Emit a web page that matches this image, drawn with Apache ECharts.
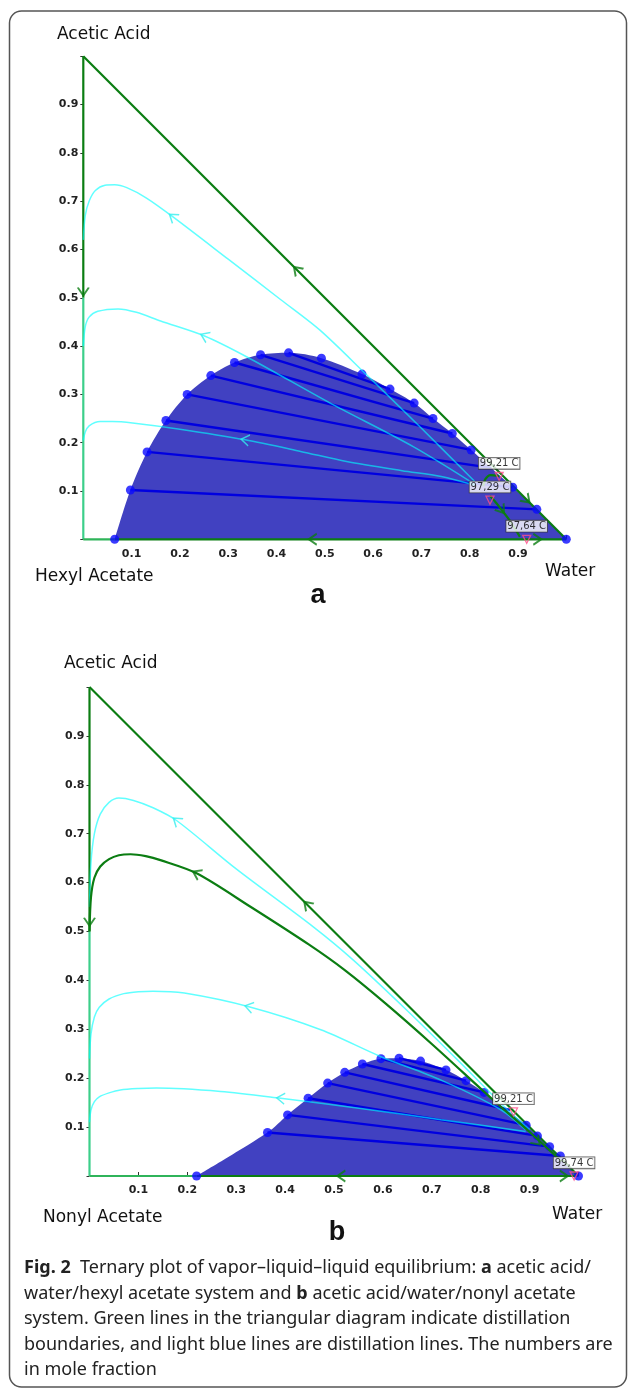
<!DOCTYPE html>
<html lang="en">
<head>
<meta charset="UTF-8">
<title>Fig. 2 ternary plots</title>
<script src="https://cdn.jsdelivr.net/npm/echarts@6/dist/echarts.min.js"></script>
<style>
  body { margin: 0; background: #fff; }
  #main { width: 629px; height: 1389px; }
</style>
</head>
<body>
<div id="main"></div>
<script>
// x = water mole fraction, y = acetic acid mole fraction
var tickLabels = ['0.1', '0.2', '0.3', '0.4', '0.5', '0.6', '0.7', '0.8', '0.9'];

// ---- panel a : acetic acid / water / hexyl acetate ----
var aBinodal = [[0.065, 0], [0.0975, 0.102], [0.132, 0.181], [0.171, 0.246], [0.215, 0.300], [0.264, 0.339],
  [0.313, 0.366], [0.367, 0.382], [0.425, 0.386], [0.493, 0.375], [0.577, 0.342], [0.635, 0.311],
  [0.685, 0.282], [0.724, 0.250], [0.764, 0.219], [0.803, 0.185], [0.889, 0.108], [0.939, 0.062], [1.0, 0]];
var aTies = [
  [[0.0975, 0.102], [0.939, 0.062]], [[0.132, 0.181], [0.889, 0.108]], [[0.171, 0.246], [0.845, 0.148]],
  [[0.215, 0.300], [0.803, 0.185]], [[0.264, 0.339], [0.764, 0.219]], [[0.313, 0.366], [0.724, 0.250]],
  [[0.367, 0.382], [0.685, 0.282]], [[0.425, 0.386], [0.635, 0.311]]];
var aCyan1 = [[0, 0.62], [0.004, 0.67], [0.012, 0.70], [0.025, 0.722], [0.045, 0.733], [0.065, 0.734], [0.09, 0.728],
  [0.13, 0.707], [0.185, 0.668], [0.3, 0.58], [0.409, 0.496], [0.49, 0.433], [0.587, 0.34], [0.697, 0.233], [0.81, 0.12]];
var aCyan2 = [[0, 0.40], [0.004, 0.44], [0.012, 0.46], [0.03, 0.472], [0.072, 0.477], [0.11, 0.47], [0.16, 0.452],
  [0.251, 0.421], [0.338, 0.378], [0.511, 0.282], [0.683, 0.192], [0.812, 0.113]];
var aCyan3 = [[0, 0.205], [0.004, 0.222], [0.012, 0.235], [0.035, 0.244], [0.06, 0.244], [0.102, 0.241], [0.2, 0.228],
  [0.335, 0.206], [0.45, 0.182], [0.545, 0.161], [0.66, 0.142], [0.741, 0.130], [0.81, 0.112]];
var aBound1 = [[0.842, 0.09], [0.855, 0.075], [0.866, 0.061], [0.882, 0.040], [0.904, 0.005]];
var aBound2 = [[0.828, 0.110], [0.832, 0.124], [0.843, 0.133], [0.861, 0.131]];
var aGreenArrows = [[0.442, 0.558, -1, 1], [0, 0.513, 0, -1], [0.475, 0, -1, 0], [0.866, 0.061, 0.6, -0.8], [0.918, 0.082, 1, -1], [0.94, 0, 1, 0]];
var aCyanArrows = [[0.185, 0.668, -1, 0.77], [0.251, 0.421, -1, 0.45], [0.335, 0.206, -1, 0.17]];
var aTemps = [[0.861, 0.130], [0.842, 0.081], [0.918, 0]];
var aTempNames = ['99,21 C', '97,29 C', '97,64 C'];

// ---- panel b : acetic acid / water / nonyl acetate ----
var bBinodal = [[0.219, 0], [0.364, 0.089], [0.405, 0.125], [0.447, 0.159], [0.487, 0.190], [0.522, 0.212],
  [0.558, 0.229], [0.596, 0.240], [0.633, 0.241], [0.677, 0.235], [0.729, 0.217], [0.770, 0.195], [0.807, 0.171],
  [0.893, 0.104], [0.916, 0.082], [0.941, 0.060], [0.963, 0.041], [1.0, 0]];
var bTies = [
  [[0.364, 0.089], [0.963, 0.041]], [[0.405, 0.125], [0.941, 0.060]], [[0.447, 0.159], [0.916, 0.082]],
  [[0.487, 0.190], [0.893, 0.104]], [[0.522, 0.212], [0.86, 0.135]], [[0.558, 0.229], [0.807, 0.171]],
  [[0.596, 0.240], [0.770, 0.195]], [[0.633, 0.241], [0.729, 0.217]]];
var bCyan1 = [[0, 0.55], [0.003, 0.64], [0.01, 0.70], [0.022, 0.74], [0.04, 0.764], [0.06, 0.773], [0.09, 0.768],
  [0.13, 0.753], [0.178, 0.727], [0.3, 0.628], [0.457, 0.51], [0.539, 0.442], [0.65, 0.338], [0.75, 0.24], [0.85, 0.14], [0.9, 0.095]];
var bCyan2 = [[0, 0.24], [0.003, 0.29], [0.01, 0.325], [0.02, 0.345], [0.04, 0.362], [0.07, 0.373], [0.1, 0.377],
  [0.13, 0.378], [0.194, 0.374], [0.326, 0.346], [0.473, 0.299], [0.596, 0.244], [0.719, 0.196], [0.842, 0.135], [0.892, 0.094]];
var bCyan3 = [[0, 0.11], [0.003, 0.135], [0.01, 0.152], [0.02, 0.162], [0.04, 0.17], [0.063, 0.176], [0.1, 0.179],
  [0.137, 0.18], [0.268, 0.173], [0.391, 0.159], [0.555, 0.138], [0.719, 0.115], [0.892, 0.091]];
var bBound1 = [[0, 0.50], [0.003, 0.57], [0.01, 0.61], [0.022, 0.633], [0.04, 0.648], [0.06, 0.656], [0.084, 0.658],
  [0.115, 0.654], [0.145, 0.646], [0.219, 0.619], [0.33, 0.55], [0.449, 0.473], [0.522, 0.421],
  [0.604, 0.354], [0.7, 0.27], [0.826, 0.155], [0.9, 0.09], [0.965, 0.03]];
var bGreenArrows = [[0.445, 0.555, -1, 1], [0, 0.52, 0, -1], [0.515, 0, -1, 0], [0.219, 0.619, -1, 0.5], [0.915, 0.07, 1, -1], [0.97, 0, 1, 0]];
var bCyanArrows = [[0.178, 0.727, -1, 0.8], [0.326, 0.346, -1, 0.25], [0.391, 0.159, -1, 0.1]];
var bTemps = [[0.867, 0.131], [0.991, 0]];
var bTempNames = ['99,21 C', '99,74 C'];

var GREEN = '#0b7d12', MINT = '#3ccf8a', FILL = '#4141c1', TIE = '#0000e0', DOT = '#0a0aff', CYAN = '#00ffff';
var FONT = 'DejaVu Sans';

function seg(g, pts, color, width, z, extra) {
  var s = {
    type: 'line', xAxisIndex: g, yAxisIndex: g, data: pts, symbol: 'none', clip: false, silent: true, z: z,
    lineStyle: { color: color, width: width }
  };
  for (var k in extra) s[k] = extra[k];
  return s;
}

function arrows(g, list, color, width, z) {
  return {
    type: 'scatter', xAxisIndex: g, yAxisIndex: g, z: z, silent: true, clip: false,
    symbol: 'path://M0,10 L5,0 L10,10', symbolSize: [11, 8],
    itemStyle: { color: 'transparent', borderColor: color, borderWidth: width },
    data: list.map(function (a) {
      return { value: [a[0], a[1]], symbolRotate: Math.atan2(a[3], a[2]) * 180 / Math.PI - 90 };
    })
  };
}

function panel(g, binodal, ties, cyans, bounds, gArr, cArr, temps, names) {
  var out = [];
  var x0 = binodal[0][0];
  out.push(seg(g, binodal, FILL, 0, 1, { smooth: 0.3, areaStyle: { color: FILL, opacity: 1 } }));
  ties.forEach(function (t) { out.push(seg(g, t, TIE, 2.4, 2)); });
  out.push(seg(g, [[0, 1], [1, 0]], GREEN, 2.2, 3));
  out.push(seg(g, [[0, 1], [0, 0.5]], GREEN, 2.2, 3));
  out.push(seg(g, [[0, 0.5], [0, 0]], MINT, 2.2, 3));
  out.push(seg(g, [[0, 0], [x0, 0]], '#2fb45a', 2.2, 3));
  out.push(seg(g, [[x0, 0], [1, 0]], GREEN, 2.2, 3));
  out.push({
    type: 'scatter', xAxisIndex: g, yAxisIndex: g, z: 4, silent: true, clip: false,
    symbol: 'circle', symbolSize: 9, itemStyle: { color: DOT }, data: binodal
  });
  cyans.forEach(function (c) {
    out.push(seg(g, c, CYAN, 1.5, 5, { smooth: 0.3 }));
    out[out.length - 1].lineStyle.opacity = 0.62;
  });
  bounds.forEach(function (b) { out.push(seg(g, b, GREEN, 2.2, 6, { smooth: 0.3 })); });
  out.push(arrows(g, cArr, '#33eeee', 1.4, 7));
  out.push(arrows(g, gArr, GREEN, 1.8, 7));
  out.push({
    type: 'scatter', xAxisIndex: g, yAxisIndex: g, z: 8, silent: true, clip: false,
    symbol: 'triangle', symbolRotate: 180, symbolSize: 8,
    itemStyle: { color: 'transparent', borderColor: '#ff4d88', borderWidth: 1.3 },
    label: {
      show: true, position: 'top', distance: 3, formatter: '{b}', fontFamily: FONT, fontSize: 10,
      color: '#000', backgroundColor: '#fff', borderColor: '#333', borderWidth: 0.8, padding: [1, 1, 0, 1]
    },
    data: temps.map(function (p, i) { return { name: names[i], value: p }; })
  });
  return out;
}

function tickFmt(v) {
  var k = Math.round(v * 10);
  return (k >= 1 && k <= 9) ? tickLabels[k - 1] : '';
}

function axis(g, isX) {
  return {
    gridIndex: g, type: 'value', min: 0, max: 1, interval: 0.1,
    axisLine: { show: false }, splitLine: { show: false },
    axisTick: { show: true, inside: isX, length: isX ? 4 : 3, lineStyle: { color: '#333' } },
    axisLabel: { margin: isX ? 9 : 5, formatter: tickFmt, fontFamily: FONT, fontSize: 11, fontWeight: 'bold', color: '#222' }
  };
}

function txt(x, y, text, size, extra) {
  var st = { text: text, x: x, y: y, fill: '#111', fontFamily: FONT, fontSize: size, verticalAlign: 'middle' };
  for (var k in extra) st[k] = extra[k];
  return { type: 'text', silent: true, style: st };
}

var caption = [
  '{b|Fig. 2}  Ternary plot of vapor–liquid–liquid equilibrium: {b|a} acetic acid/',
  'water/hexyl acetate system and {b|b} acetic acid/water/nonyl acetate',
  'system. Green lines in the triangular diagram indicate distillation',
  'boundaries, and light blue lines are distillation lines. The numbers are',
  'in mole fraction'
];

var graphics = [
  { type: 'rect', silent: true, shape: { x: 9.5, y: 11, width: 617, height: 1376, r: 12 }, style: { fill: 'none', stroke: '#555', lineWidth: 1.5 } },
  txt(57, 35, 'Acetic Acid', 17),
  txt(35, 577, 'Hexyl Acetate', 17),
  txt(545, 572, 'Water', 17),
  txt(318, 596, 'a', 27, { fontFamily: 'Liberation Sans', fontWeight: 'bold', align: 'center' }),
  txt(64, 664, 'Acetic Acid', 17),
  txt(43, 1218, 'Nonyl Acetate', 17),
  txt(552, 1215, 'Water', 17),
  txt(337, 1233, 'b', 27, { fontFamily: 'Liberation Sans', fontWeight: 'bold', align: 'center' })
];
caption.forEach(function (line, i) {
  graphics.push(txt(24, 1268 + i * 25.5, line, 18, {
    fontFamily: 'Noto Sans', fill: '#222',
    rich: { b: { fontFamily: 'Noto Sans', fontSize: 18, fontWeight: 'bold', fill: '#222' } }
  }));
});

var chart = echarts.init(document.getElementById('main'));
chart.setOption({
  animation: false,
  backgroundColor: '#fff',
  grid: [
    { left: 83.3, top: 56.3, width: 483, height: 483 },
    { left: 89.5, top: 687, width: 489, height: 489 }
  ],
  xAxis: [axis(0, true), axis(1, true)],
  yAxis: [axis(0, false), axis(1, false)],
  series: panel(0, aBinodal, aTies, [aCyan1, aCyan2, aCyan3], [aBound1, aBound2], aGreenArrows, aCyanArrows, aTemps, aTempNames)
    .concat(panel(1, bBinodal, bTies, [bCyan1, bCyan2, bCyan3], [bBound1], bGreenArrows, bCyanArrows, bTemps, bTempNames)),
  graphic: graphics
});
</script>
</body>
</html>
